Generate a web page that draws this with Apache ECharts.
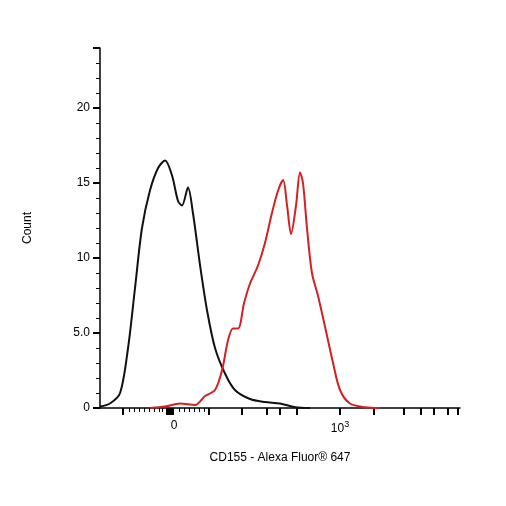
<!DOCTYPE html><html><head><meta charset="utf-8"><script src="https://cdn.jsdelivr.net/npm/echarts@6/dist/echarts.min.js"></script></head><body style="margin:0"><div id="c" style="width:506px;height:506px"></div><script>
const blackX=[-0.446,-0.386,-0.325,-0.277,-0.235,-0.193,-0.145,-0.096,-0.054,-0.012,0.024,0.048,0.084,0.114,0.157,0.199,0.247,0.307,0.367,0.458,0.548,0.639,0.729,0.819];
const blackY=[0.1,0.3,1,4,8,12,14.5,16,16.5,15.5,13.8,13.5,14.7,13,9.5,6.5,4,2.3,1.2,0.6,0.4,0.3,0.05,0];
const redX=[-0.145,-0.054,0.036,0.127,0.187,0.247,0.289,0.325,0.355,0.386,0.422,0.458,0.506,0.548,0.590,0.627,0.657,0.681,0.705,0.735,0.759,0.777,0.801,0.831,0.867,0.898,0.928,0.958,1.0,1.06,1.151,1.241];
const redY=[0,0.1,0.3,0.2,0.8,1.2,2.5,4.5,5.3,5.3,7,8.3,9.5,11,13,14.5,15.2,13.5,11.6,13.5,15.7,15,12,9,7.5,6,4.5,3,1.2,0.3,0.05,0];
const xMajorTicks=[-0.307,-0.042,-0.030,-0.018,-0.006,0.211,0.410,0.560,0.639,0.741,1.0,1.205,1.386,1.488,1.566,1.651,1.711];
const xMinorTicks=[-0.27,-0.24,-0.21,-0.18,-0.15,-0.12,-0.09,-0.07,0.03,0.06,0.09,0.12,0.15,0.18];
const xLabels=[0,1];
const yLabels=[0,5,10,15,20];
const zip=(a,b)=>a.map((v,i)=>[v,b[i]]);
const ch=echarts.init(document.getElementById('c'));
const ax={color:'#000',width:1.5};
ch.setOption({animation:false,
grid:{left:100,right:46,top:48,bottom:98},
xAxis:[{type:'value',min:-0.446,max:1.723,axisLine:{lineStyle:ax,onZero:false},splitLine:{show:false},
 axisTick:{customValues:xMajorTicks,length:7,inside:false,lineStyle:{width:2,color:'#000'}},
 axisLabel:{customValues:xLabels,color:'#000',fontSize:12,fontFamily:'Liberation Sans',margin:12,
  formatter:v=>v===0?'0':'10{s|3}',rich:{s:{fontSize:9,verticalAlign:'top',padding:[0,0,8,0]}}},
 name:'CD155 - Alexa Fluor® 647',nameLocation:'middle',nameGap:44,nameTextStyle:{color:'#000',fontSize:12,fontFamily:'Liberation Sans'}},
 {type:'value',min:-0.446,max:1.723,position:'bottom',axisLine:{show:false},axisLabel:{show:false},splitLine:{show:false},
 axisTick:{customValues:xMinorTicks,length:4,lineStyle:{color:'#000'}}}],
yAxis:{type:'value',min:0,max:24,interval:5,axisLine:{show:true,onZero:false,lineStyle:ax},splitLine:{show:false},
 axisTick:{show:true,length:7,lineStyle:{width:2,color:'#000'}},
 minorTick:{show:true,splitNumber:5,length:4,lineStyle:{color:'#000'}},
 axisLabel:{customValues:yLabels,color:'#000',fontSize:12,fontFamily:'Liberation Sans',margin:10,formatter:v=>v===5?'5.0':String(v)},
 name:'Count',nameLocation:'middle',nameGap:66,nameTextStyle:{color:'#000',fontSize:12,fontFamily:'Liberation Sans'}},
series:[
 {type:'line',data:zip(blackX,blackY),smooth:0.3,symbol:'none',lineStyle:{color:'#111',width:2}},
 {type:'line',data:zip(redX,redY),smooth:0.3,symbol:'none',lineStyle:{color:'#d42020',width:2}}
]});
</script></body></html>
